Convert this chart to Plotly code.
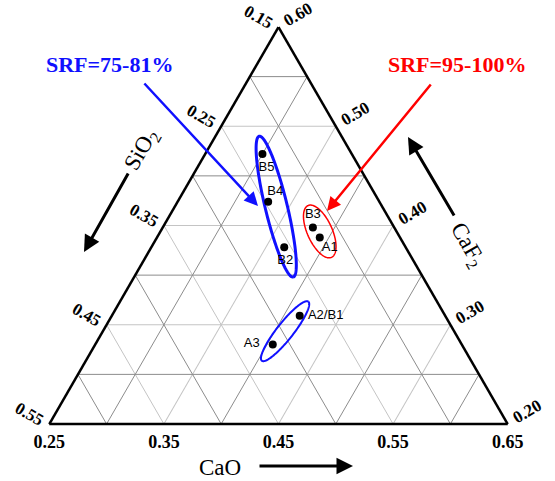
import numpy as np
import plotly.graph_objects as go

# ---------------- data ----------------
samples = ["B5", "B4", "B3", "A1", "B2", "A2/B1", "A3"]
caf2 = [0.472, 0.424, 0.398, 0.388, 0.378, 0.309, 0.280]
sio2 = [0.228, 0.247, 0.221, 0.220, 0.256, 0.277, 0.315]
cao = [0.300, 0.329, 0.381, 0.392, 0.366, 0.414, 0.405]

# axis minima of the zoomed ternary (sum = 1)
CAF2_MIN, SIO2_MIN, CAO_MIN = 0.20, 0.15, 0.25
SPAN = 1 - CAF2_MIN - SIO2_MIN - CAO_MIN

# major ticks (values of the component whose grid lines they are)
caf2_ticks = [0.20, 0.30, 0.40, 0.50, 0.60]
sio2_ticks = [0.15, 0.25, 0.35, 0.45, 0.55]
cao_ticks = [0.25, 0.35, 0.45, 0.55, 0.65]
# labels shown along the edges
left_labels = ["0.55", "0.45", "0.35", "0.25", "0.15"]    # SiO2 (left edge)
bottom_labels = ["0.65", "0.55", "0.45", "0.35", "0.25"]  # CaO (bottom edge)
right_labels = ["0.60", "0.50", "0.40", "0.30", "0.20"]   # CaF2 (right edge)
# minor grid values
caf2_minor = [0.25, 0.35, 0.45, 0.55]
sio2_minor = [0.20, 0.30, 0.40, 0.50]
cao_minor = [0.30, 0.40, 0.50, 0.60]

# ellipses: (CaF2, SiO2, CaO) centre, semi-axes (fraction of side), angle deg
ellipses = [
    dict(center=(0.419, 0.2425, 0.3385), a=0.158, b=0.024, ang=-76.4, color="#1010ff", width=3),
    dict(center=(0.394, 0.217, 0.389), a=0.062, b=0.027, ang=-65.6, color="#ff0000", width=1.5),
    dict(center=(0.2935, 0.2975, 0.409), a=0.082, b=0.018, ang=51.8, color="#1010ff", width=2),
]

# ---------------- helpers ----------------
S3 = np.sqrt(3) / 2
W, H = 555, 481
SIDE = 459.0


def comp_to_xy(a, b, c):
    lt = (np.asarray(a) - CAF2_MIN) / SPAN
    lr = (np.asarray(c) - CAO_MIN) / SPAN
    return lr + 0.5 * lt, lt * S3


def xy_to_comp(x, y):
    lt = np.asarray(y) / S3
    lr = np.asarray(x) - 0.5 * lt
    ll = 1 - lt - lr
    return CAF2_MIN + SPAN * lt, SIO2_MIN + SPAN * ll, CAO_MIN + SPAN * lr


def px(x):
    return x / W


def py(y):
    return 1 - y / H


fig = go.Figure()

# minor grid lines (darker gray)
grid_col = "#8c8c8c"
for v in caf2_minor:
    fig.add_trace(go.Scatterternary(a=[v, v], b=[1 - CAO_MIN - v, SIO2_MIN], c=[CAO_MIN, 1 - SIO2_MIN - v],
                                    mode="lines", line=dict(color=grid_col, width=1), hoverinfo="skip"))
for v in sio2_minor:
    fig.add_trace(go.Scatterternary(a=[CAF2_MIN, 1 - CAO_MIN - v], b=[v, v], c=[1 - CAF2_MIN - v, CAO_MIN],
                                    mode="lines", line=dict(color=grid_col, width=1), hoverinfo="skip"))
for v in cao_minor:
    fig.add_trace(go.Scatterternary(a=[CAF2_MIN, 1 - SIO2_MIN - v], b=[1 - CAF2_MIN - v, SIO2_MIN], c=[v, v],
                                    mode="lines", line=dict(color=grid_col, width=1), hoverinfo="skip"))

# ellipses
t = np.linspace(0, 2 * np.pi, 181)
for e in ellipses:
    cx, cy = comp_to_xy(*e["center"])
    th = np.deg2rad(e["ang"])
    ex = cx + e["a"] * np.cos(t) * np.cos(th) - e["b"] * np.sin(t) * np.sin(th)
    ey = cy + e["a"] * np.cos(t) * np.sin(th) + e["b"] * np.sin(t) * np.cos(th)
    ea, eb, ec = xy_to_comp(ex, ey)
    fig.add_trace(go.Scatterternary(a=ea, b=eb, c=ec, mode="lines",
                                    line=dict(color=e["color"], width=e["width"]), hoverinfo="skip"))

# points
fig.add_trace(go.Scatterternary(a=caf2, b=sio2, c=cao, mode="markers",
                                marker=dict(color="black", size=8), text=samples,
                                hovertemplate="%{text}<br>CaF2=%{a}<br>SiO2=%{b}<br>CaO=%{c}<extra></extra>"))

# point labels (offset in pixels from the dot: dx right, dy down)
label_offsets = [(4, 14), (7, -10), (0, -13), (10, 10), (1, 13), (26, 0), (-21, -1)]
lx, ly = comp_to_xy(caf2, sio2, cao)
lx = lx + np.array([o[0] for o in label_offsets]) / SIDE
ly = ly - np.array([o[1] for o in label_offsets]) / SIDE
la, lb, lc = xy_to_comp(lx, ly)
fig.add_trace(go.Scatterternary(a=la, b=lb, c=lc, mode="text", text=samples,
                                textposition="middle center",
                                textfont=dict(family="Liberation Sans", size=13, color="black"),
                                hoverinfo="skip"))

tickfont_side = dict(family="Liberation Serif", size=17, color="black", weight="bold")
tickfont_bottom = dict(family="Liberation Serif", size=18, color="black", weight="bold")
axis_common = dict(tickmode="array", linecolor="black", linewidth=2.5,
                   gridcolor="#c4c4c4", gridwidth=1, showgrid=True, ticks="outside",
                   tickcolor="rgba(0,0,0,0)", title=dict(text=""))

fig.update_layout(
    width=W, height=H,
    margin=dict(l=0, r=0, t=0, b=0),
    paper_bgcolor="white",
    showlegend=False,
    ternary=dict(
        sum=1,
        domain=dict(x=[49 / W, 508 / W], y=[(H - 424) / H, (H - 27) / H]),
        bgcolor="white",
        aaxis=dict(min=CAF2_MIN, tickvals=caf2_ticks, ticktext=left_labels, tickangle=30,
                   ticklen=2, tickfont=tickfont_side, **axis_common),
        baxis=dict(min=SIO2_MIN, tickvals=sio2_ticks, ticktext=bottom_labels, tickangle=0,
                   ticklen=0, tickfont=tickfont_bottom, **axis_common),
        caxis=dict(min=CAO_MIN, tickvals=cao_ticks, ticktext=right_labels, tickangle=-30,
                   ticklen=3, tickfont=tickfont_side, **axis_common),
    ),
)

title_font = dict(family="Liberation Serif", size=23, color="black")
srf_font_b = dict(family="Liberation Serif", size=22, color="#1010ff", weight="bold")
srf_font_r = dict(family="Liberation Serif", size=22, color="#ff0000", weight="bold")

annotations = [
    dict(x=px(142), y=py(150), text="SiO<sub>2</sub>", textangle=-60, font=title_font),
    dict(x=px(467), y=py(245), text="CaF<sub>2</sub>", textangle=60, font=title_font),
    dict(x=px(220), y=py(467), text="CaO", font=title_font),
    dict(x=px(109), y=py(64), text="SRF=75-81%", font=srf_font_b),
    dict(x=px(457), y=py(64), text="SRF=95-100%", font=srf_font_r),
]
# arrows: (tail_x, tail_y, head_x, head_y, color, width, size)
arrows = [
    (129, 172, 84, 252, "black", 3, 1.1),
    (455, 217, 408, 137, "black", 3, 1.1),
    (258, 466, 353, 466, "black", 3, 1.1),
    (143, 82, 258, 206, "#1010ff", 2.5, 1.1),
    (432, 83, 327, 211, "#ff0000", 2.5, 1.1),
]
for tx, ty, hx, hy, col, wd, sz in arrows:
    annotations.append(dict(x=px(hx), y=py(hy), ax=tx - hx, ay=ty - hy, text="", showarrow=True,
                            arrowhead=2, arrowsize=sz, arrowwidth=wd, arrowcolor=col, standoff=0))
for an in annotations:
    an.setdefault("showarrow", False)
    an.update(xref="paper", yref="paper", xanchor="center", yanchor="middle")
fig.update_layout(annotations=annotations)

fig.write_html("out.html", config={"displayModeBar": False},
               post_script="document.body.style.margin='0px';")
